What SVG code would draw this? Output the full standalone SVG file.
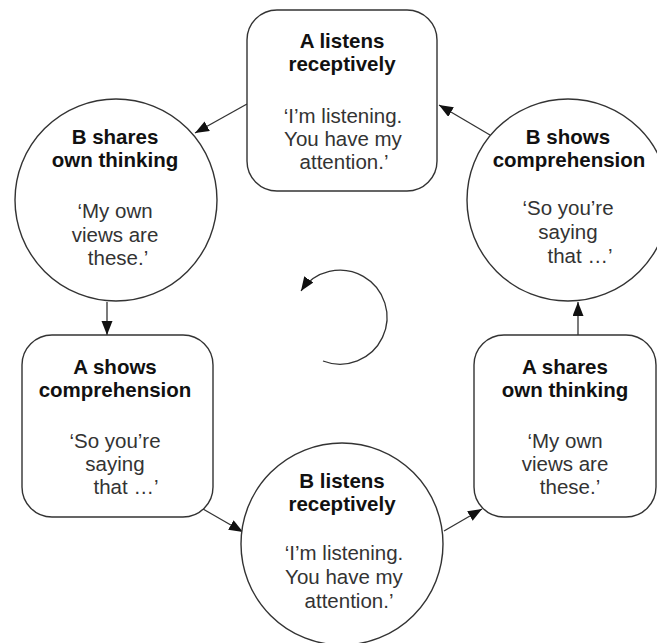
<svg xmlns="http://www.w3.org/2000/svg" width="657" height="643" viewBox="0 0 657 643">
<style>
.shape{fill:#fff;stroke:#333;stroke-width:1.4}
.conn{fill:none;stroke:#333;stroke-width:1.3}
text{font-family:"Liberation Sans",Arial,sans-serif;font-size:20.5px;text-anchor:middle}
.t{font-weight:bold;fill:#111}
.q{fill:#333}
</style>
<defs>
<marker id="ah" markerUnits="userSpaceOnUse" markerWidth="15" markerHeight="12" refX="14" refY="5.5" orient="auto">
<path d="M0,0 L14,5.5 L0,11 z" fill="#111"/>
</marker>
</defs>
<rect width="657" height="643" fill="#fff"/>
<g id="connectors">
<line class="conn" x1="247" y1="104" x2="195" y2="133" marker-end="url(#ah)"/>
<line class="conn" x1="107" y1="302" x2="107" y2="335" marker-end="url(#ah)"/>
<line class="conn" x1="203" y1="509" x2="243" y2="532" marker-end="url(#ah)"/>
<line class="conn" x1="444" y1="531" x2="482" y2="509" marker-end="url(#ah)"/>
<line class="conn" x1="578" y1="335" x2="578" y2="302" marker-end="url(#ah)"/>
<line class="conn" x1="490" y1="135" x2="439" y2="105" marker-end="url(#ah)"/>
<path class="conn" d="M323,361 A47,47 0 1 0 301,291" marker-end="url(#ah)"/>
</g>
<g id="a-listens">
<rect class="shape" x="247" y="10" width="190" height="181" rx="30"/>
<text class="t" x="342" y="48">A listens</text>
<text class="t" x="342" y="71">receptively</text>
<text class="q" x="343" y="123">‘I’m listening.</text>
<text class="q" x="343" y="146">You have my</text>
<text class="q" x="344" y="169">attention.’</text>
</g>
<g id="b-shares">
<circle class="shape" cx="116" cy="200" r="101"/>
<text class="t" x="115" y="144">B shares</text>
<text class="t" x="115" y="167">own thinking</text>
<text class="q" x="115" y="218">‘My own</text>
<text class="q" x="115" y="242">views are</text>
<text class="q" x="118" y="265">these.’</text>
</g>
<g id="b-shows">
<circle class="shape" cx="568" cy="200" r="101"/>
<text class="t" x="568" y="144">B shows</text>
<text class="t" x="569" y="167">comprehension</text>
<text class="q" x="568" y="215">‘So you’re</text>
<text class="q" x="568" y="239">saying</text>
<text class="q" x="580" y="263">that …’</text>
</g>
<g id="a-shows">
<rect class="shape" x="22" y="335" width="191" height="182" rx="30"/>
<text class="t" x="115" y="374">A shows</text>
<text class="t" x="115" y="397">comprehension</text>
<text class="q" x="115" y="448">‘So you’re</text>
<text class="q" x="115" y="471">saying</text>
<text class="q" x="126" y="494">that …’</text>
</g>
<g id="a-shares">
<rect class="shape" x="474" y="335" width="182" height="182" rx="30"/>
<text class="t" x="565" y="374">A shares</text>
<text class="t" x="565" y="397">own thinking</text>
<text class="q" x="565" y="448">‘My own</text>
<text class="q" x="565" y="471">views are</text>
<text class="q" x="570" y="494">these.’</text>
</g>
<g id="b-listens">
<circle class="shape" cx="342" cy="544" r="101"/>
<text class="t" x="342" y="488">B listens</text>
<text class="t" x="342" y="511">receptively</text>
<text class="q" x="344" y="560">‘I’m listening.</text>
<text class="q" x="344" y="584">You have my</text>
<text class="q" x="349" y="608">attention.’</text>
</g>
</svg>
